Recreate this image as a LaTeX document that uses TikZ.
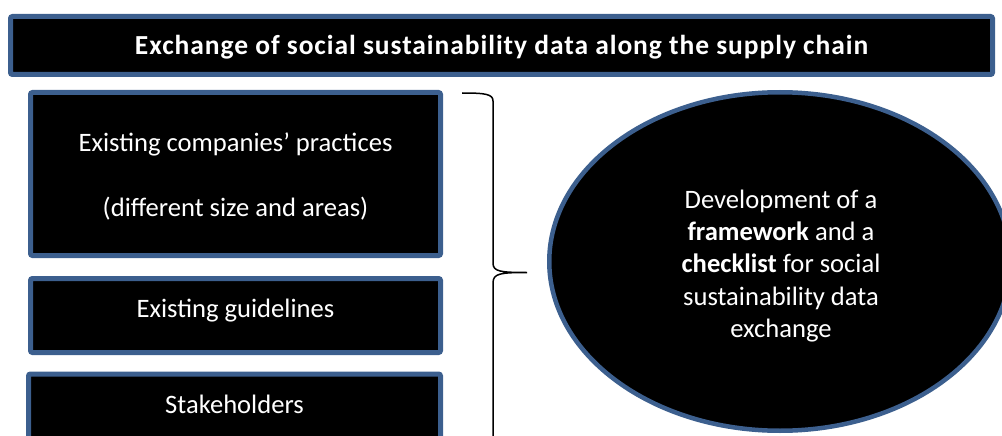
\documentclass[tikz,border=0pt]{standalone}
\usepackage{fontspec}
\setmainfont{Carlito}
\usetikzlibrary{shapes.geometric}
\definecolor{frameblue}{HTML}{3C5F8E}
\begin{document}
\begin{tikzpicture}[x=1pt,y=-1pt,
  box/.style={draw=frameblue, fill=black, line width=5pt, rounded corners=2pt, inner sep=0pt, outer sep=0pt},
  lbl/.style={text=white, anchor=base, inner sep=0pt, align=center, font=\fontsize{26.6}{32.3}\selectfont},
  bracepath/.style={draw=black, line width=1.5pt},
]
\useasboundingbox (0,0) rectangle (1002,436);
\clip (0,0) rectangle (1002,436);
% title
\node[box, minimum width=982pt, minimum height=58pt] (title) at (501.5,45.5) {};
\node[lbl, font=\fontsize{27.5}{32.3}\selectfont\bfseries\addfontfeature{LetterSpace=3.4}] (titletext) at (501.5,55) {Exchange of social sustainability data along the supply chain};
% left boxes
\node[box, minimum width=410pt, minimum height=163pt] (practices) at (235.5,174) {};
\node[lbl] (practicestext) at (235.5,151) {\begin{tabular}[t]{@{}c@{}}Existing companies’ practices\\[32.7pt](different size and areas)\end{tabular}};
\node[box, minimum width=410pt, minimum height=74pt] (guidelines) at (235.5,315.5) {};
\node[lbl] (guidelinestext) at (235.5,317) {Existing guidelines};
\node[box, minimum width=412pt, minimum height=75pt] (stakeholders) at (234.5,411.5) {};
\node[lbl] (stakeholderstext) at (234.5,413) {Stakeholders};
% ellipse
\node[box, ellipse, line width=4.5pt, minimum width=461.5pt, minimum height=338.5pt] (framework) at (780,261.5) {};
\node[lbl] (frameworktext) at (781,208.3) {\begin{tabular}[t]{@{}c@{}}Development of a\\\textbf{framework} and a\\\textbf{checklist} for social\\sustainability data\\exchange\end{tabular}};
% brace
\draw[bracepath] (462,93) .. controls (485,93) and (493,94) .. (493,101)
  -- (493,263) .. controls (493,271.5) and (500,272.5) .. (527,272.5)
  .. controls (500,272.5) and (493,273.5) .. (493,283) -- (493,445);
\end{tikzpicture}
\end{document}
